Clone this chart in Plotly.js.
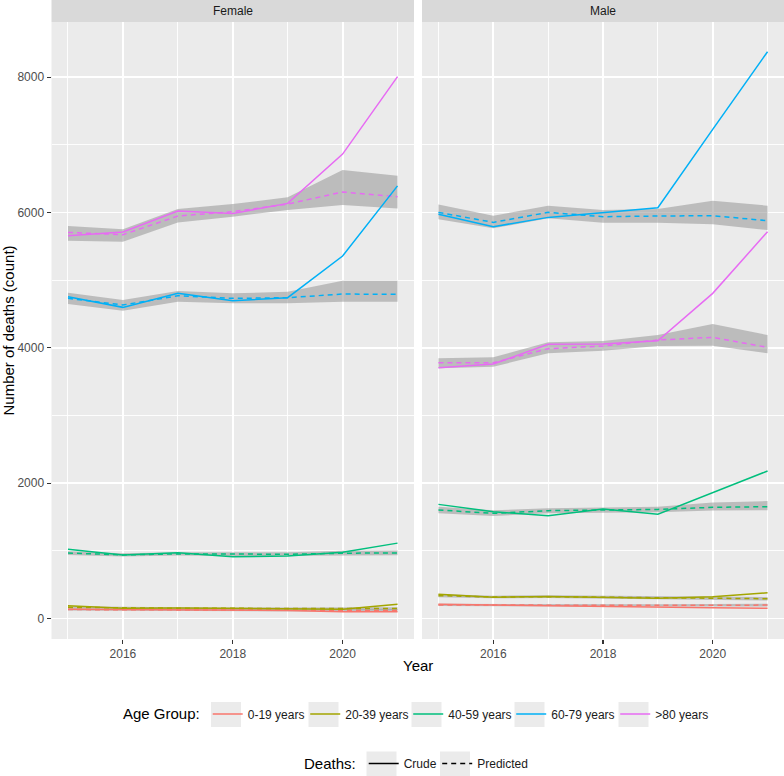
<!DOCTYPE html>
<html>
<head>
<meta charset="utf-8">
<script src="https://cdn.plot.ly/plotly-3.0.1.min.js"></script>
<style>
  html, body { margin: 0; padding: 0; background: #ffffff; }
  #chart { width: 784px; height: 776px; }
</style>
</head>
<body>
<div id="chart"></div>
<script>
// Yearly deaths by sex and age group: crude counts vs. model predictions (with interval)
const years = [2015, 2016, 2017, 2018, 2019, 2020, 2021];
const ageGroups = ['0-19 years', '20-39 years', '40-59 years', '60-79 years', '>80 years'];
const sexes = ['Female', 'Male'];
const deathTypes = ['Crude', 'Predicted'];

const xTickVals = [2016, 2018, 2020];
const xTickText = ['2016', '2018', '2020'];
const yTickVals = [0, 2000, 4000, 6000, 8000];
const yTickText = ['0', '2000', '4000', '6000', '8000'];

// one row per age group, one value per year
const femaleCrude = [
  [135, 132, 128, 126, 118, 101, 100],
  [190, 152, 155, 150, 152, 138, 210],
  [1022, 939, 973, 914, 924, 978, 1114],
  [4757, 4599, 4806, 4698, 4742, 5358, 6395],
  [5658, 5712, 6023, 5988, 6136, 6865, 8010]
];
const femalePredicted = [
  [132, 130, 128, 125, 122, 120, 118],
  [165, 155, 152, 150, 148, 147, 146],
  [968, 940, 955, 948, 950, 965, 970],
  [4732, 4634, 4771, 4732, 4742, 4796, 4791],
  [5707, 5673, 5949, 6013, 6126, 6304, 6235]
];
const femaleLower = [
  [117, 116, 115, 112, 108, 102, 98],
  [148, 140, 138, 136, 133, 128, 125],
  [940, 915, 930, 922, 922, 932, 935],
  [4648, 4550, 4683, 4658, 4658, 4683, 4683],
  [5584, 5570, 5855, 5939, 6038, 6112, 6062]
];
const femaleUpper = [
  [147, 144, 141, 138, 136, 138, 138],
  [182, 170, 166, 164, 163, 166, 167],
  [995, 965, 980, 975, 980, 1000, 1005],
  [4816, 4707, 4840, 4806, 4831, 4993, 4993],
  [5801, 5752, 6052, 6126, 6225, 6629, 6545]
];

const maleCrude = [
  [210, 198, 188, 180, 170, 160, 151],
  [357, 313, 325, 316, 300, 322, 380],
  [1687, 1579, 1520, 1618, 1540, 1865, 2180],
  [5974, 5791, 5929, 5998, 6072, 7230, 8378],
  [3707, 3762, 4052, 4057, 4106, 4806, 5717]
];
const malePredicted = [
  [200, 197, 195, 194, 195, 197, 198],
  [338, 318, 322, 316, 305, 298, 292],
  [1604, 1554, 1594, 1604, 1613, 1643, 1653],
  [6003, 5855, 6003, 5939, 5949, 5954, 5880],
  [3781, 3781, 3988, 4028, 4116, 4156, 4008]
];
const maleLower = [
  [183, 181, 180, 179, 179, 178, 177],
  [315, 298, 302, 297, 285, 274, 266],
  [1555, 1515, 1555, 1565, 1570, 1595, 1600],
  [5900, 5767, 5915, 5850, 5850, 5826, 5742],
  [3698, 3722, 3919, 3959, 4028, 4032, 3919]
];
const maleUpper = [
  [217, 213, 210, 209, 211, 216, 219],
  [361, 338, 342, 335, 325, 322, 318],
  [1650, 1600, 1630, 1635, 1650, 1715, 1735],
  [6121, 5954, 6102, 6038, 6052, 6176, 6102],
  [3845, 3860, 4082, 4101, 4190, 4353, 4190]
];

// ---- styling ----
const W = 784, H = 776;
const FONT = 'Liberation Sans, Arial, Helvetica, sans-serif';
const groupColors = ['#F8766D', '#A3A500', '#00BF7D', '#00B0F6', '#E76BF3'];
const RIBBON = 'rgba(150,150,150,0.55)';
const LW = 1.5;
const DASH = '5px,4px';
const px = v => v / W;          // pixel x -> paper
const py = v => 1 - v / H;      // pixel y -> paper

// panel geometry (pixels)
const panelTop = 22, panelBottom = 639;
const panelX = [[51.5, 414], [422, 784]];

const panels = [
  { crude: femaleCrude, pred: femalePredicted, lo: femaleLower, hi: femaleUpper, xa: 'x', ya: 'y' },
  { crude: maleCrude, pred: malePredicted, lo: maleLower, hi: maleUpper, xa: 'x2', ya: 'y2' }
];

// widths of the legend entries so the keys sit on an even grid
const ageLegendWidths = [52.5, 58, 58, 59, 60];
const deathLegendWidths = [28.5, 60];

const traces = [];
panels.forEach((p, pi) => {
  // prediction intervals
  ageGroups.forEach((g, i) => {
    traces.push({
      type: 'scatter', mode: 'lines',
      x: years.concat(years.slice().reverse()),
      y: p.hi[i].concat(p.lo[i].slice().reverse()),
      fill: 'toself', fillcolor: RIBBON,
      line: { width: 0 },
      xaxis: p.xa, yaxis: p.ya,
      showlegend: false, hoverinfo: 'skip'
    });
  });
  // predicted (dashed) and crude (solid) series
  ageGroups.forEach((g, i) => {
    traces.push({
      type: 'scatter', mode: 'lines',
      x: years, y: p.pred[i],
      line: { color: groupColors[i], width: LW, dash: DASH },
      xaxis: p.xa, yaxis: p.ya,
      showlegend: false, hoverinfo: 'skip'
    });
  });
  ageGroups.forEach((g, i) => {
    traces.push({
      type: 'scatter', mode: 'lines',
      x: years, y: p.crude[i],
      name: g,
      line: { color: groupColors[i], width: LW },
      xaxis: p.xa, yaxis: p.ya,
      legend: 'legend',
      legendwidth: ageLegendWidths[i],
      showlegend: pi === 0, hoverinfo: 'skip'
    });
  });
});

// line-type legend entries
deathTypes.forEach((t, i) => {
  traces.push({
    type: 'scatter', mode: 'lines',
    x: [null], y: [null],
    name: t,
    line: { color: '#000000', width: LW, dash: i === 0 ? 'solid' : DASH },
    xaxis: 'x', yaxis: 'y',
    legend: 'legend2',
    legendwidth: deathLegendWidths[i],
    showlegend: true, hoverinfo: 'skip'
  });
});

const xAxisBase = {
  range: [2014.7, 2021.3],
  tickvals: xTickVals, ticktext: xTickText,
  ticks: 'outside', ticklen: 4, tickwidth: 1.1, tickcolor: '#333333',
  tickfont: { family: FONT, size: 12, color: '#4D4D4D' },
  showgrid: true, gridcolor: '#FFFFFF', gridwidth: 1.8,
  minor: { dtick: 1, tick0: 2015, showgrid: true, gridcolor: '#FFFFFF', gridwidth: 0.9, ticks: '' },
  zeroline: false, showline: false, fixedrange: true
};
const yAxisBase = {
  range: [-303, 8817],
  tickvals: yTickVals, ticktext: yTickText,
  showgrid: true, gridcolor: '#FFFFFF', gridwidth: 1.8,
  minor: { dtick: 1000, tick0: 0, showgrid: true, gridcolor: '#FFFFFF', gridwidth: 0.9, ticks: '' },
  zeroline: false, showline: false, fixedrange: true,
  domain: [py(panelBottom), py(panelTop)]
};

const shapes = [];
// facet strips
panelX.forEach(([x0, x1]) => {
  shapes.push({ type: 'rect', xref: 'paper', yref: 'paper',
    x0: px(x0), x1: px(x1), y0: py(panelTop), y1: 1,
    fillcolor: '#D9D9D9', line: { width: 0 }, layer: 'below' });
});
// grey key backgrounds behind the legend symbols
const ageKeyCenters = [226, 323.5, 426.5, 529.5, 633.5];
const deathKeyCenters = [381.5, 455];
const keyRow = [714.5, 764];
const keyW = 30, keyH = 25;
ageKeyCenters.forEach(c => shapes.push({ type: 'rect', xref: 'paper', yref: 'paper',
  x0: px(c - keyW / 2), x1: px(c + keyW / 2), y0: py(keyRow[0] + keyH / 2), y1: py(keyRow[0] - keyH / 2),
  fillcolor: '#EBEBEB', line: { width: 0 }, layer: 'below' }));
deathKeyCenters.forEach(c => shapes.push({ type: 'rect', xref: 'paper', yref: 'paper',
  x0: px(c - keyW / 2), x1: px(c + keyW / 2), y0: py(keyRow[1] + keyH / 2), y1: py(keyRow[1] - keyH / 2),
  fillcolor: '#EBEBEB', line: { width: 0 }, layer: 'below' }));

const annotations = [
  { text: sexes[0], xref: 'paper', yref: 'paper', x: px((panelX[0][0] + panelX[0][1]) / 2), y: py(11),
    showarrow: false, xanchor: 'center', yanchor: 'middle', font: { family: FONT, size: 12, color: '#1A1A1A' } },
  { text: sexes[1], xref: 'paper', yref: 'paper', x: px((panelX[1][0] + panelX[1][1]) / 2), y: py(11),
    showarrow: false, xanchor: 'center', yanchor: 'middle', font: { family: FONT, size: 12, color: '#1A1A1A' } },
  { text: 'Year', xref: 'paper', yref: 'paper', x: px((panelX[0][0] + panelX[1][1]) / 2), y: py(665),
    showarrow: false, xanchor: 'center', yanchor: 'middle', font: { family: FONT, size: 15, color: '#000000' } }
];

const legendCommon = {
  orientation: 'h', xanchor: 'left', yanchor: 'middle',
  bgcolor: 'rgba(0,0,0,0)', borderwidth: 0,
  font: { family: FONT, size: 12, color: '#1A1A1A' },
  itemwidth: 30, traceorder: 'normal', itemclick: false, itemdoubleclick: false
};

const layout = {
  width: W, height: H,
  margin: { l: 0, r: 0, t: 0, b: 0, autoexpand: false },
  paper_bgcolor: '#FFFFFF', plot_bgcolor: '#EBEBEB',
  font: { family: FONT, color: '#000000' },
  showlegend: true,
  xaxis: Object.assign({}, xAxisBase, { domain: [px(panelX[0][0]), px(panelX[0][1])], anchor: 'y' }),
  xaxis2: Object.assign({}, xAxisBase, { domain: [px(panelX[1][0]), px(panelX[1][1])], anchor: 'y2' }),
  yaxis: Object.assign({}, yAxisBase, {
    anchor: 'x',
    ticks: 'outside', ticklen: 4, tickwidth: 1.1, tickcolor: '#333333',
    tickfont: { family: FONT, size: 12, color: '#4D4D4D' },
    title: { text: 'Number of deaths (count)', font: { family: FONT, size: 15, color: '#000000' }, standoff: 2 }
  }),
  yaxis2: Object.assign({}, yAxisBase, { anchor: 'x2', matches: 'y', showticklabels: false, ticks: '' }),
  legend: Object.assign({}, legendCommon, {
    x: px(121), y: py(714.5),
    title: { text: 'Age Group:', side: 'left', font: { family: FONT, size: 15, color: '#000000' } }
  }),
  legend2: Object.assign({}, legendCommon, {
    x: px(302), y: py(764),
    title: { text: 'Deaths:', side: 'left', font: { family: FONT, size: 15, color: '#000000' } }
  }),
  shapes: shapes,
  annotations: annotations,
  hovermode: false
};

Plotly.newPlot('chart', traces, layout, { displayModeBar: false, staticPlot: true });
</script>
</body>
</html>
